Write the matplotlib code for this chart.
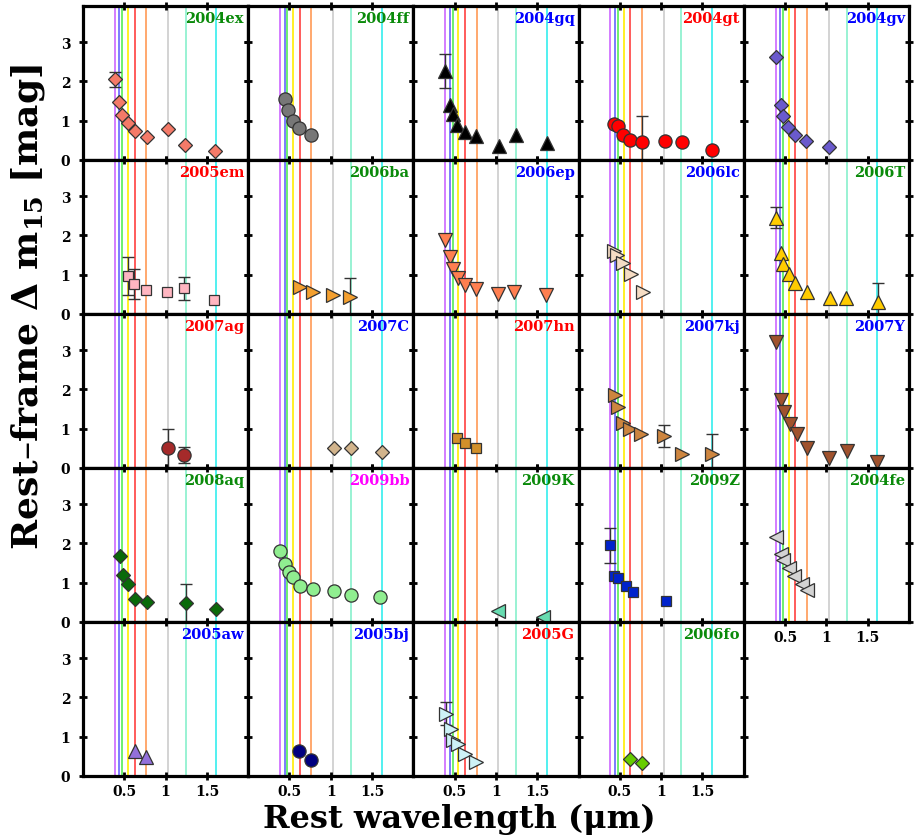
import numpy as np
import matplotlib
matplotlib.use('Agg')
import matplotlib.pyplot as plt

plt.rcParams['font.family'] = 'DejaVu Serif'
plt.rcParams['font.weight'] = 'bold'
plt.rcParams['mathtext.fontset'] = 'dejavuserif'

# filter centres (micron) and the colour of each filter line
band_wl = [0.385, 0.44, 0.475, 0.545, 0.625, 0.765, 1.03, 1.245, 1.615]
band_col = ['#cc66ff', '#6666ff', '#55ee55', '#ffee00', '#ff4040',
            '#ff9955', '#cccccc', '#88f0cc', '#33eeee']

# rest-frame dm15 per supernova: wavelength, value, error (0 = none)
wl_04ex = [0.385, 0.44, 0.476, 0.55, 0.63, 0.77, 1.03, 1.24, 1.6]
dm_04ex = [2.05, 1.47, 1.15, 0.93, 0.74, 0.57, 0.79, 0.38, 0.21]
er_04ex = [0.2, 0, 0, 0, 0, 0, 0, 0, 0]

wl_04ff = [0.445, 0.478, 0.54, 0.62, 0.76]
dm_04ff = [1.54, 1.27, 0.98, 0.82, 0.63]
er_04ff = [0, 0, 0, 0, 0]

wl_04gq = [0.385, 0.445, 0.478, 0.53, 0.62, 0.76, 1.04, 1.245, 1.615]
dm_04gq = [2.26, 1.40, 1.17, 0.89, 0.70, 0.60, 0.36, 0.63, 0.42]
er_04gq = [0.43, 0, 0, 0, 0, 0, 0, 0, 0]

wl_04gt = [0.43, 0.474, 0.54, 0.62, 0.764, 1.04, 1.25, 1.62]
dm_04gt = [0.91, 0.86, 0.62, 0.50, 0.44, 0.49, 0.45, 0.25]
er_04gt = [0, 0, 0, 0, 0.67, 0, 0, 0]

wl_04gv = [0.385, 0.445, 0.478, 0.54, 0.615, 0.757, 1.03]
dm_04gv = [2.63, 1.40, 1.11, 0.84, 0.62, 0.49, 0.32]
er_04gv = [0, 0, 0, 0, 0, 0, 0]

wl_05em = [0.546, 0.62, 0.757, 1.02, 1.225, 1.59]
dm_05em = [0.96, 0.76, 0.61, 0.55, 0.65, 0.35]
er_05em = [0.49, 0.39, 0, 0, 0.29, 0]

wl_06ba = [0.625, 0.78, 1.03, 1.23]
dm_06ba = [0.68, 0.56, 0.48, 0.43]
er_06ba = [0, 0, 0, 0.48]

wl_06ep = [0.385, 0.445, 0.478, 0.538, 0.62, 0.76, 1.03, 1.22, 1.607]
dm_06ep = [1.89, 1.45, 1.15, 0.92, 0.74, 0.63, 0.50, 0.56, 0.48]
er_06ep = [0, 0, 0, 0, 0, 0, 0, 0, 0]

wl_06lc = [0.425, 0.466, 0.535, 0.635, 0.776]
dm_06lc = [1.59, 1.49, 1.30, 1.02, 0.56]
er_06lc = [0, 0, 0, 0, 0]

wl_06T = [0.385, 0.445, 0.478, 0.547, 0.62, 0.764, 1.04, 1.24, 1.62]
dm_06T = [2.45, 1.55, 1.27, 1.02, 0.78, 0.56, 0.39, 0.39, 0.31]
er_06T = [0.27, 0, 0, 0, 0, 0, 0, 0, 0.47]

wl_07ag = [1.03, 1.22]
dm_07ag = [0.50, 0.33]
er_07ag = [0.5, 0.2]

wl_07C = [1.035, 1.24, 1.617]
dm_07C = [0.50, 0.50, 0.40]
er_07C = [0, 0, 0]

wl_07hn = [0.524, 0.62, 0.754]
dm_07hn = [0.76, 0.63, 0.50]
er_07hn = [0, 0, 0]

wl_07kj = [0.445, 0.478, 0.54, 0.62, 0.76, 1.03, 1.25, 1.62]
dm_07kj = [1.85, 1.55, 1.15, 1.0, 0.86, 0.8, 0.35, 0.35]
er_07kj = [0, 0, 0, 0, 0, 0.28, 0, 0.5]

wl_07Y = [0.385, 0.445, 0.49, 0.56, 0.64, 0.77, 1.03, 1.245, 1.615]
dm_07Y = [3.2, 1.72, 1.42, 1.12, 0.85, 0.5, 0.25, 0.42, 0.15]
er_07Y = [0, 0, 0, 0, 0, 0, 0, 0, 0]

wl_08aq = [0.445, 0.48, 0.54, 0.63, 0.77, 1.25, 1.61]
dm_08aq = [1.67, 1.18, 0.97, 0.58, 0.50, 0.48, 0.33]
er_08aq = [0, 0, 0, 0, 0, 0.48, 0]

wl_09bb = [0.385, 0.445, 0.49, 0.54, 0.625, 0.78, 1.035, 1.24, 1.6]
dm_09bb = [1.81, 1.48, 1.27, 1.15, 0.92, 0.83, 0.79, 0.68, 0.63]
er_09bb = [0, 0, 0, 0, 0, 0, 0, 0, 0]

wl_09K = [1.02, 1.57]
dm_09K = [0.27, 0.12]
er_09K = [0, 0]

wl_09Z = [0.385, 0.43, 0.475, 0.57, 0.66, 1.06]
dm_09Z = [1.95, 1.17, 1.12, 0.9, 0.75, 0.53]
er_09Z = [0.45, 0, 0, 0, 0, 0]

wl_04fe = [0.385, 0.445, 0.48, 0.55, 0.61, 0.71, 0.77]
dm_04fe = [2.17, 1.72, 1.58, 1.38, 1.17, 0.97, 0.8]
er_04fe = [0, 0, 0, 0, 0, 0, 0]

wl_05aw = [0.627, 0.768]
dm_05aw = [0.62, 0.47]
er_05aw = [0, 0]

wl_05bj = [0.62, 0.757]
dm_05bj = [0.63, 0.40]
er_05bj = [0, 0]

wl_05G = [0.4, 0.45, 0.478, 0.538, 0.62, 0.76]
dm_05G = [1.58, 1.20, 0.90, 0.81, 0.56, 0.34]
er_05G = [0.29, 0, 0, 0, 0, 0]

wl_06fo = [0.627, 0.768]
dm_06fo = [0.43, 0.33]
er_06fo = [0, 0]

GREEN = '#0a8a0a'
BLUE = '#0000ff'
RED = '#ff0000'
MAG = '#ff00ff'

# name, name colour, data, marker, face colour
panels = [
    ('2004ex', GREEN, wl_04ex, dm_04ex, er_04ex, 'D', '#f47a68'),
    ('2004ff', GREEN, wl_04ff, dm_04ff, er_04ff, 'o', '#777777'),
    ('2004gq', BLUE, wl_04gq, dm_04gq, er_04gq, '^', '#000000'),
    ('2004gt', RED, wl_04gt, dm_04gt, er_04gt, 'o', '#ff0000'),
    ('2004gv', BLUE, wl_04gv, dm_04gv, er_04gv, 'D', '#6a5acd'),
    ('2005em', RED, wl_05em, dm_05em, er_05em, 's', '#ffb6c1'),
    ('2006ba', GREEN, wl_06ba, dm_06ba, er_06ba, '>', '#f4a030'),
    ('2006ep', BLUE, wl_06ep, dm_06ep, er_06ep, 'v', '#ff7f50'),
    ('2006lc', BLUE, wl_06lc, dm_06lc, er_06lc, '>', '#f5dcc4'),
    ('2006T', GREEN, wl_06T, dm_06T, er_06T, '^', '#ffcc00'),
    ('2007ag', RED, wl_07ag, dm_07ag, er_07ag, 'o', '#a52a2a'),
    ('2007C', BLUE, wl_07C, dm_07C, er_07C, 'D', '#d2b48c'),
    ('2007hn', RED, wl_07hn, dm_07hn, er_07hn, 's', '#d2902a'),
    ('2007kj', BLUE, wl_07kj, dm_07kj, er_07kj, '>', '#cd853f'),
    ('2007Y', BLUE, wl_07Y, dm_07Y, er_07Y, 'v', '#a0522d'),
    ('2008aq', GREEN, wl_08aq, dm_08aq, er_08aq, 'D', '#0a6a0a'),
    ('2009bb', MAG, wl_09bb, dm_09bb, er_09bb, 'o', '#90ee90'),
    ('2009K', GREEN, wl_09K, dm_09K, er_09K, '<', '#66dcb0'),
    ('2009Z', GREEN, wl_09Z, dm_09Z, er_09Z, 's', '#0022cc'),
    ('2004fe', GREEN, wl_04fe, dm_04fe, er_04fe, '<', '#d3d3d3'),
    ('2005aw', BLUE, wl_05aw, dm_05aw, er_05aw, '^', '#9370db'),
    ('2005bj', BLUE, wl_05bj, dm_05bj, er_05bj, 'o', '#000080'),
    ('2005G', RED, wl_05G, dm_05G, er_05G, '>', '#cdf2f6'),
    ('2006fo', GREEN, wl_06fo, dm_06fo, er_06fo, 'D', '#66cc00'),
]

msize = {'o': 9.5, 'D': 7.5, 's': 7.5, '^': 10, 'v': 10, '>': 10, '<': 10}

fig = plt.figure(figsize=(9.18, 8.37), dpi=100)
gs = fig.add_gridspec(5, 5, left=0.0904, right=0.9902, top=0.992,
                      bottom=0.072, wspace=0, hspace=0)

for k, (name, ncol, wl, dm, er, mk, fc) in enumerate(panels):
    row, col = divmod(k, 5)
    ax = fig.add_subplot(gs[row, col])
    for w, c in zip(band_wl, band_col):
        ax.axvline(w, color=c, lw=1.2, zorder=1)
    wl = np.array(wl)
    dm = np.array(dm)
    er = np.array(er)
    has = er > 0
    if has.any():
        ax.errorbar(wl[has], dm[has], yerr=er[has], fmt='none',
                    ecolor='#333333', elinewidth=1.0, capsize=4,
                    capthick=1.0, zorder=2)
    ax.plot(wl, dm, ls='none', marker=mk, ms=msize[mk], mfc=fc,
            mec='#333333', mew=0.9, zorder=3)
    ax.text(0.975, 0.965, name, color=ncol, fontsize=10.5,
            fontweight='bold', ha='right', va='top', transform=ax.transAxes)

    ax.set_xlim(0, 2.0)
    ax.set_ylim(0, 3.93)
    ax.set_xticks([0.5, 1, 1.5])
    ax.set_xticklabels(['0.5', '1', '1.5'])
    ax.set_yticks([0, 1, 2, 3])
    ax.tick_params(direction='inout', length=6, width=2, top=True,
                   right=True, labelsize=10)
    ax.tick_params(axis='x', pad=3)
    ax.tick_params(axis='y', pad=6)
    for s in ax.spines.values():
        s.set_linewidth(2.3)
    if not (row == 4 or (row == 3 and col == 4)):
        ax.tick_params(labelbottom=False)
    if col != 0:
        ax.tick_params(labelleft=False)

fig.text(0.031, 0.633, 'Rest\u2013frame \u0394 m$_{\\mathbf{15}}$ [mag]',
         rotation=90, ha='center', va='center', fontsize=26,
         fontweight='bold')
fig.text(0.5, 0.011, 'Rest wavelength (\u03bcm)', ha='center',
         va='baseline', fontsize=23, fontweight='bold')

fig.savefig('out.png', dpi=100)
